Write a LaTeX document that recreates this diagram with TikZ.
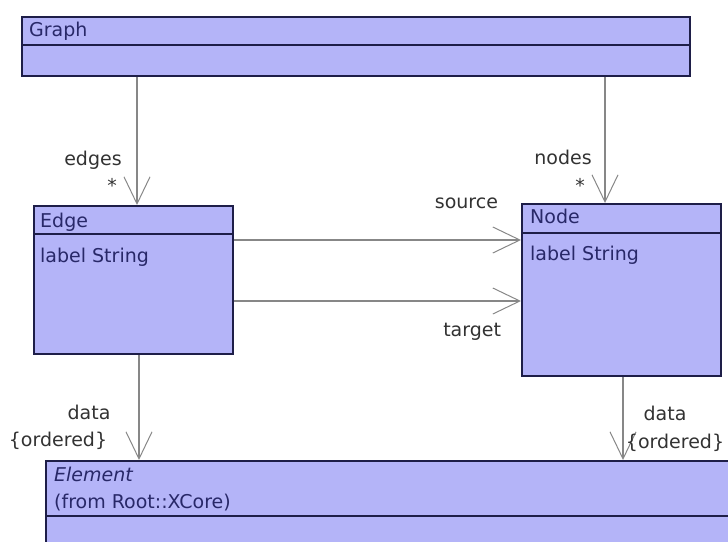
\documentclass[tikz,border=0pt]{standalone}
\usepackage{fontspec}
\setmainfont{DejaVu Sans}
\usetikzlibrary{arrows.meta}

\definecolor{classfill}{RGB}{180,180,248}
\definecolor{classline}{RGB}{30,30,72}
\definecolor{classtext}{RGB}{40,40,104}
\definecolor{linkgray}{RGB}{135,135,135}
\definecolor{roletext}{RGB}{50,50,50}

\begin{document}
\begin{tikzpicture}[
  x=1pt, y=-1pt,
  font=\fontsize{19}{23}\selectfont,
  classbox/.style={draw=classline, fill=classfill, line width=1.8pt, anchor=north west, inner sep=0pt},
  divider/.style={draw=classline, line width=1.8pt},
  cname/.style={anchor=base west, text=classtext, inner sep=0pt},
  role/.style={text=roletext, inner sep=0pt},
  every edge/.style={draw=linkgray, line width=1.2pt, -{Straight Barb[length=27pt, width=26pt, line width=1pt]}}
]
\useasboundingbox (0,0) rectangle (728,541);
\clip (0,0) rectangle (728,541);

% classes
\node[classbox, minimum width=668pt, minimum height=59pt] (graph) at (21,16) {};
\node[classbox, minimum width=199pt, minimum height=148pt] (edgecls) at (33,205) {};
\node[classbox, minimum width=199pt, minimum height=172pt] (nodecls) at (521,203) {};
\node[classbox, minimum width=720pt, minimum height=120pt] (element) at (45,460) {};

\draw[divider] ([yshift=-29pt]graph.north west) -- ([yshift=-29pt]graph.north east);
\draw[divider] ([yshift=-29pt]edgecls.north west) -- ([yshift=-29pt]edgecls.north east);
\draw[divider] ([yshift=-30pt]nodecls.north west) -- ([yshift=-30pt]nodecls.north east);
\draw[divider] ([yshift=-56pt]element.north west) -- ([yshift=-56pt]element.north east);

\node[cname] (graphname) at ([xshift=8pt, yshift=-20pt]graph.north west) {Graph};
\node[cname] (edgename) at ([xshift=7pt, yshift=-22pt]edgecls.north west) {Edge};
\node[cname] (edgeattr) at ([xshift=7pt, yshift=-57pt]edgecls.north west) {label String};
\node[cname] (nodename) at ([xshift=9pt, yshift=-20pt]nodecls.north west) {Node};
\node[cname] (nodeattr) at ([xshift=9pt, yshift=-57pt]nodecls.north west) {label String};
\node[cname] (elemname) at ([xshift=9pt, yshift=-21pt]element.north west) {\itshape Element};
\node[cname] (elemfrom) at ([xshift=9pt, yshift=-48pt]element.north west) {(from Root::XCore)};

% associations
\draw ([xshift=116pt]graph.south west) edge
  node[role, pos=0.65, xshift=-44pt] {edges}
  node[role, pos=0.85, xshift=-25pt] {*}
  ([xshift=104pt]edgecls.north west);
\draw ([xshift=584pt]graph.south west) edge
  node[role, pos=0.64, xshift=-42pt] {nodes}
  node[role, pos=0.86, xshift=-25pt] {*}
  ([xshift=84pt]nodecls.north west);

\draw ([yshift=-35pt]edgecls.north east) edge
  node[role, pos=0.81, yshift=37pt] {source}
  ([yshift=-37pt]nodecls.north west);
\draw ([yshift=-96pt]edgecls.north east) edge
  node[role, pos=0.83, yshift=-31pt] {target}
  ([yshift=-98pt]nodecls.north west);

\draw ([xshift=106pt]edgecls.south west) edge
  node[role, pos=0.55, xshift=-50pt] {data}
  node[role, pos=0.82, xshift=-81pt] {\{ordered\}}
  ([xshift=94pt]element.north west);
\draw ([xshift=102pt]nodecls.south west) edge
  node[role, pos=0.44, xshift=42pt] {data}
  node[role, pos=0.79, xshift=52pt] {\{ordered\}}
  ([xshift=578pt]element.north west);
\end{tikzpicture}
\end{document}
